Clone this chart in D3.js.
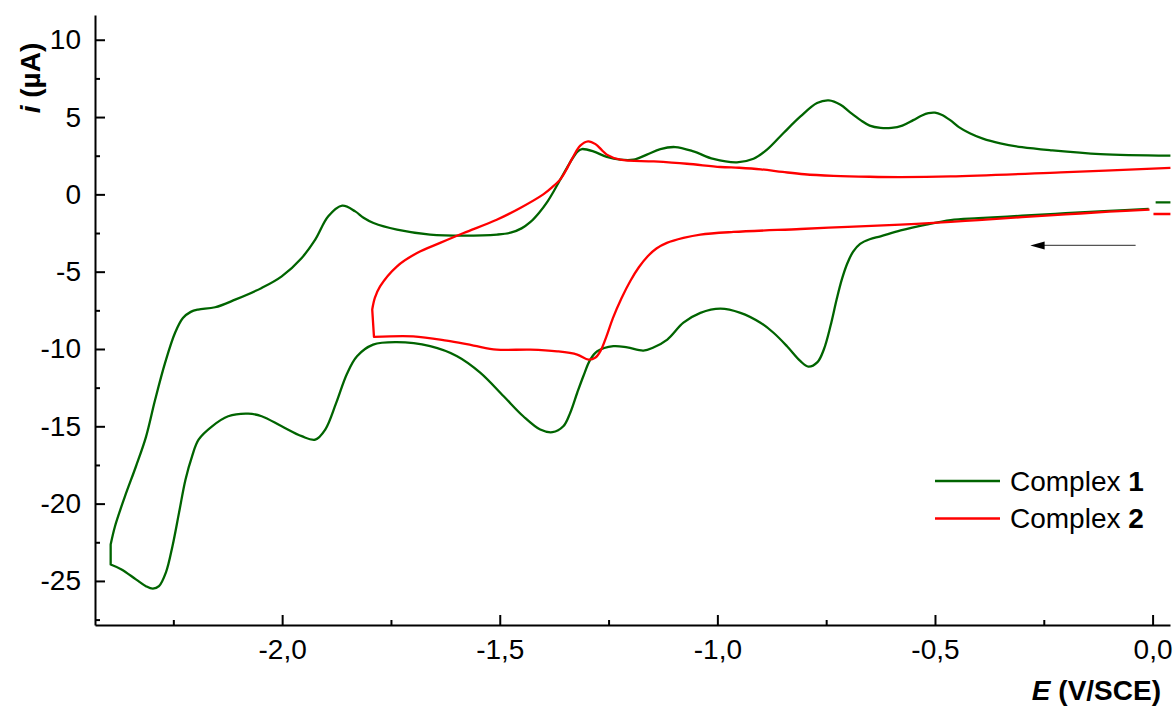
<!DOCTYPE html>
<html>
<head>
<meta charset="utf-8">
<script src="https://cdn.jsdelivr.net/npm/d3@7"></script>
<style>
  body { margin: 0; background: #fff; }
  svg { display: block; font-family: "Liberation Sans", Arial, sans-serif; }
</style>
</head>
<body>
<div id="chart"></div>
<script>
// Complex 1 (green): potential (V) and current (uA), in scan order. null = pen lift
const complex1E = [0.041, 0.007, 0.0,
  -0.009, -0.1, -0.2, -0.3, -0.4, -0.464, -0.52, -0.579, -0.625, -0.65, -0.672, -0.688, -0.702, -0.714, -0.726,
  -0.74, -0.755, -0.77, -0.791, -0.809, -0.840, -0.871, -0.901, -0.947, -0.993, -1.039, -1.078, -1.115, -1.147,
  -1.170, -1.207, -1.239, -1.276, -1.292, -1.308, -1.322, -1.338, -1.354, -1.379, -1.407, -1.446, -1.491, -1.545,
  -1.598, -1.660, -1.737, -1.791, -1.828, -1.851, -1.876, -1.901, -1.924, -1.955, -2.001, -2.047, -2.078, -2.124,
  -2.161, -2.192, -2.207, -2.222, -2.237, -2.252, -2.267, -2.283, -2.297, -2.313, -2.336, -2.369, -2.394,
  -2.394, -2.384, -2.361, -2.336, -2.313, -2.292, -2.269, -2.246, -2.228, -2.21, -2.193, -2.154, -2.108, -2.047,
  -2.001, -1.955, -1.924, -1.894, -1.862, -1.832, -1.813, -1.79, -1.736, -1.660, -1.583, -1.506, -1.475, -1.45,
  -1.43, -1.41, -1.39, -1.375, -1.36, -1.345, -1.33, -1.32, -1.311, -1.285, -1.254, -1.223, -1.193, -1.162,
  -1.131, -1.097, -1.055, -1.009, -0.955, -0.917, -0.886, -0.848, -0.809, -0.771, -0.744, -0.717, -0.695, -0.671,
  -0.65, -0.625, -0.6, -0.575, -0.55, -0.53, -0.515, -0.5, -0.485, -0.465, -0.445, -0.42, -0.39, -0.35,
  -0.3, -0.234, -0.12, 0.041];
const complex1I = [-0.52, -0.52, null,
  -0.94, -1.07, -1.22, -1.38, -1.54, -1.66, -1.95, -2.33, -2.71, -2.9, -3.2, -3.7, -4.5, -5.5, -6.8,
  -8.5, -10.0, -10.85, -11.14, -10.79, -9.82, -8.95, -8.30, -7.66, -7.39, -7.66, -8.30, -9.39, -9.9,
  -10.10, -9.9, -9.82, -10.15, -10.69, -11.76, -12.83, -14.12, -15.0, -15.38, -15.21, -14.35, -13.06, -11.53,
  -10.47, -9.82, -9.56, -9.72, -10.47, -11.6, -13.5, -15.21, -15.86, -15.64, -15.0, -14.35, -14.18, -14.35,
  -15.0, -15.86, -16.94, -18.44, -20.6, -22.75, -24.45, -25.34, -25.5, -25.34, -24.9, -24.26, -23.94,
  -22.65, -21.46, -19.52, -17.6, -15.7, -13.3, -10.9, -8.95, -8.0, -7.6, -7.45, -7.3, -6.81, -6.05,
  -5.3, -4.11, -2.93, -1.42, -0.73, -1.1, -1.51, -1.85, -2.28, -2.6, -2.67, -2.6, -2.48, -2.2,
  -1.8, -1.2, -0.45, 0.25, 1.0, 1.75, 2.45, 2.8, 2.93, 2.78, 2.42, 2.24, 2.24, 2.57,
  2.93, 3.06, 2.78, 2.29, 2.07, 2.3, 2.89, 3.97, 5.04, 5.91, 6.08, 5.8, 5.3, 4.8,
  4.45, 4.3, 4.3, 4.45, 4.8, 5.1, 5.25, 5.28, 5.15, 4.8, 4.35, 3.95, 3.6, 3.3,
  3.05, 2.85, 2.6, 2.5];

// Complex 2 (red)
const complex2E = [0.041, 0.002, 0.0,
  -0.007, -0.1, -0.2, -0.3, -0.4, -0.464, -0.579, -0.7, -0.809, -0.963, -1.039, -1.078, -1.116, -1.14, -1.16,
  -1.18, -1.2, -1.22, -1.24, -1.255, -1.268, -1.28, -1.296, -1.322, -1.368, -1.43, -1.507, -1.56, -1.622,
  -1.699, -1.789,
  -1.793, -1.787, -1.775, -1.736, -1.690, -1.637, -1.583, -1.507, -1.453, -1.40, -1.38, -1.36, -1.345, -1.33,
  -1.315, -1.297, -1.28, -1.265, -1.254, -1.223, -1.146, -1.070, -0.993, -0.95, -0.9, -0.85, -0.8, -0.733,
  -0.65, -0.579, -0.464, -0.211, 0.041];
const complex2I = [-1.27, -1.27, null,
  -0.99, -1.12, -1.3, -1.47, -1.66, -1.78, -1.96, -2.1, -2.24, -2.43, -2.6, -2.82, -3.14, -3.5, -4.0,
  -4.7, -5.6, -6.7, -8.0, -9.2, -10.1, -10.55, -10.69, -10.36, -10.15, -10.04, -10.04, -9.78, -9.46,
  -9.18, -9.22,
  -7.45, -6.7, -5.95, -4.65, -3.79, -3.14, -2.5, -1.64, -0.88, 0.0, 0.45, 1.0, 1.7, 2.5,
  3.15, 3.43, 3.25, 2.85, 2.57, 2.24, 2.13, 1.98, 1.77, 1.72, 1.62, 1.45, 1.3, 1.2,
  1.14, 1.12, 1.16, 1.42, 1.71];

const xTicks = [-2.0, -1.5, -1.0, -0.5, 0.0];
const xMinorTicks = [-2.25, -1.75, -1.25, -0.75, -0.25];
const yTicks = [10, 5, 0, -5, -10, -15, -20, -25];
const yMinorTicks = [7.5, 2.5, -2.5, -7.5, -12.5, -17.5, -22.5, -27.5];

const seriesNames = ["1", "2"];
const seriesColors = ["#006400", "#ff0000"];

const width = 1176, height = 709;
const fontSize = "28px";

const svg = d3.select("#chart").append("svg")
  .attr("width", width)
  .attr("height", height);

const x = d3.scaleLinear().domain([-2.43, 0.04]).range([95, 1170]);
const y = d3.scaleLinear().domain([-27.85, 11.6]).range([625, 15]);

const locale = d3.formatLocale({ decimal: ",", thousands: ".", grouping: [3], currency: ["", ""], minus: "-" });

// Axes, ticks pointing inside
svg.append("g")
  .attr("transform", "translate(0," + y.range()[0] + ")")
  .call(d3.axisBottom(x).tickValues(xTicks).tickSize(-10).tickSizeOuter(0).tickPadding(14).tickFormat(locale.format(".1f")));
svg.append("g")
  .attr("transform", "translate(0," + y.range()[0] + ")")
  .call(d3.axisBottom(x).tickValues(xMinorTicks).tickSize(-5).tickSizeOuter(0).tickFormat(""))
  .select(".domain").remove();

svg.append("g")
  .attr("transform", "translate(" + x.range()[0] + ",0)")
  .call(d3.axisLeft(y).tickValues(yTicks).tickSize(-10).tickSizeOuter(0).tickPadding(14).tickFormat(locale.format("d")));
svg.append("g")
  .attr("transform", "translate(" + x.range()[0] + ",0)")
  .call(d3.axisLeft(y).tickValues(yMinorTicks).tickSize(-5).tickSizeOuter(0).tickFormat(""))
  .select(".domain").remove();

svg.selectAll(".domain, .tick line")
  .attr("stroke", "#000")
  .attr("stroke-width", 2);
svg.selectAll(".tick text")
  .attr("fill", "#000")
  .style("font-size", fontSize);

// Axis titles
const xTitle = svg.append("text")
  .attr("x", 1161)
  .attr("y", 700)
  .attr("text-anchor", "end")
  .style("font-size", fontSize)
  .style("font-weight", "bold");
xTitle.append("tspan").style("font-style", "italic").text("E");
xTitle.append("tspan").text(" (V/SCE)");

const yTitle = svg.append("text")
  .attr("transform", "translate(40,78) rotate(-90)")
  .attr("text-anchor", "middle")
  .style("font-size", fontSize)
  .style("font-weight", "bold");
yTitle.append("tspan").style("font-style", "italic").text("i");
yTitle.append("tspan").text(" (\u00b5A)");

// Curves: points at both ends of a vertical (switching) step are doubled to keep the corner sharp
function toPoints(E, I) {
  const pts = [];
  E.forEach((e, k) => {
    const p = { e: e, i: I[k] };
    pts.push(p);
    const prevStep = k > 0 && I[k - 1] !== null && Math.abs(E[k - 1] - e) < 0.006;
    const nextStep = k < E.length - 1 && I[k + 1] !== null && Math.abs(E[k + 1] - e) < 0.006;
    if (I[k] !== null && (prevStep || nextStep)) pts.push(p);
  });
  return pts;
}

const curves = [toPoints(complex1E, complex1I), toPoints(complex2E, complex2I)];

const line = d3.line()
  .defined(d => d.i !== null)
  .x(d => x(d.e))
  .y(d => y(d.i))
  .curve(d3.curveCatmullRom.alpha(0.5));

svg.selectAll(".cv")
  .data(curves)
  .enter()
  .append("path")
  .attr("class", "cv")
  .attr("d", line)
  .attr("fill", "none")
  .attr("stroke", (d, k) => seriesColors[k])
  .attr("stroke-width", 2.3)
  .attr("stroke-linejoin", "round");

// Scan direction arrow
const arrowY = y(-3.3);
svg.append("line")
  .attr("x1", x(-0.039))
  .attr("x2", x(-0.262))
  .attr("y1", arrowY)
  .attr("y2", arrowY)
  .attr("stroke", "#555")
  .attr("stroke-width", 1.2);
svg.append("path")
  .attr("d", `M${x(-0.281)},${arrowY} L${x(-0.248)},${arrowY - 4} L${x(-0.248)},${arrowY + 4} Z`)
  .attr("fill", "#000");

// Legend
const legend = svg.selectAll(".legend")
  .data(seriesNames)
  .enter()
  .append("g")
  .attr("class", "legend")
  .attr("transform", (d, k) => "translate(935," + (481 + k * 37.5) + ")");

legend.append("line")
  .attr("x1", 0)
  .attr("x2", 65)
  .attr("stroke", (d, k) => seriesColors[k])
  .attr("stroke-width", 2.3);

const legendText = legend.append("text")
  .attr("x", 75)
  .attr("dy", "0.35em")
  .style("font-size", fontSize);
legendText.append("tspan").text("Complex ");
legendText.append("tspan").style("font-weight", "bold").text(d => d);
</script>
</body>
</html>
